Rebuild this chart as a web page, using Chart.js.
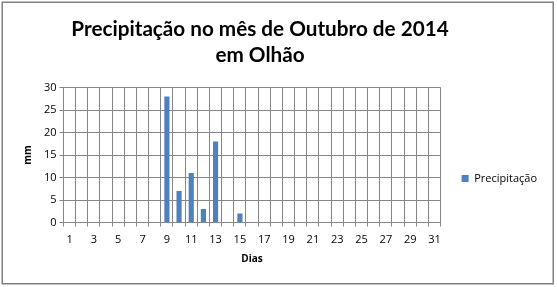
<!DOCTYPE html>
<html>
<head>
<meta charset="utf-8">
<script src="https://cdn.jsdelivr.net/npm/chart.js@4"></script>
<style>
html,body{margin:0;padding:0;background:#fff;}
#wrap{position:relative;width:557px;height:287px;}
</style>
</head>
<body>
<div id="wrap"><canvas id="c" width="557" height="287"></canvas></div>
<script>
const days = ["1","2","3","4","5","6","7","8","9","10","11","12","13","14","15","16","17","18","19","20","21","22","23","24","25","26","27","28","29","30","31"];
const precipitation = [0,0,0,0,0,0,0,0,28,7,11,3,18,0,2,0,0,0,0,0,0,0,0,0,0,0,0,0,0,0,0];
const titleLines = ["Precipitação no mês de Outubro de 2014","em Olhão"];
const seriesName = "Precipitação";
const xTitle = "Dias";
const yTitle = "mm";

const gridGray = '#868686';

const borderPlugin = {
  id: 'outerBorder',
  beforeDraw(chart) {
    const ctx = chart.ctx;
    ctx.save();
    ctx.fillStyle = '#fff';
    ctx.fillRect(0,0,chart.width,chart.height);
    ctx.strokeStyle = '#808080';
    ctx.lineWidth = 1.5;
    ctx.strokeRect(2.25, 2.25, 551, 281.5);
    ctx.restore();
  }
};

// place title and legend boxes like the original (title centred over x≈260, legend around y≈178)
const placePlugin = {
  id: 'place',
  afterLayout(chart) {
    const t = chart.titleBlock;
    if (t) { t.left = 0; t.right = 520; }
    const l = chart.legend;
    if (l) {
      const h = l.bottom - l.top;
      const dx = 11;
      l.left += dx; l.right += dx;
      l.top = 178.5 - h / 2; l.bottom = 178.5 + h / 2;
    }
  }
};

new Chart(document.getElementById('c'), {
  type: 'bar',
  data: {
    labels: days,
    datasets: [{
      label: seriesName,
      data: precipitation,
      backgroundColor: '#4F81BD',
      borderWidth: 0,
      barPercentage: 0.85,
      categoryPercentage: 0.5
    }]
  },
  options: {
    responsive: false,
    animation: false,
    devicePixelRatio: 1,
    layout: { padding: { left: 18, right: 21, top: 4, bottom: 18 } },
    plugins: {
      title: {
        display: true,
        text: titleLines,
        color: '#000',
        font: { family: 'Lato', size: 20.7, weight: 'bold', lineHeight: 1.27 },
        padding: { top: 12, bottom: 19 }
      },
      legend: {
        display: true,
        position: 'right',
        labels: {
          boxWidth: 7,
          boxHeight: 7,
          color: '#000',
          font: { family: 'Open Sans', size: 11 },
          padding: 10
        }
      },
      tooltip: { enabled: false }
    },
    scales: {
      x: {
        offset: true,
        grid: { color: gridGray, offset: true, tickLength: 4, drawTicks: true },
        border: { color: gridGray },
        ticks: {
          autoSkip: false, maxRotation: 0, padding: 7,
          color: '#000',
          font: { family: 'Open Sans', size: 11 },
          callback: function(v, i) { return i % 2 === 0 ? days[i] : ''; }
        },
        title: { display: true, text: xTitle, color: '#000', font: { family: 'Open Sans', size: 10, weight: 'bold' }, padding: { top: 4, bottom: 4 } },
        afterFit: function(s) { s.height = 46.5; }
      },
      y: {
        min: 0, max: 30,
        grid: { color: gridGray, tickLength: 4 },
        border: { color: gridGray },
        ticks: { stepSize: 5, padding: 3, color: '#000', font: { family: 'Open Sans', size: 11 } },
        title: { display: true, text: yTitle, color: '#000', font: { family: 'Open Sans', size: 10, weight: 'bold' }, padding: { top: 4, bottom: 4 } },
        afterFit: function(s) { s.width = 45.5; }
      }
    }
  },
  plugins: [borderPlugin, placePlugin]
});
</script>
</body>
</html>
